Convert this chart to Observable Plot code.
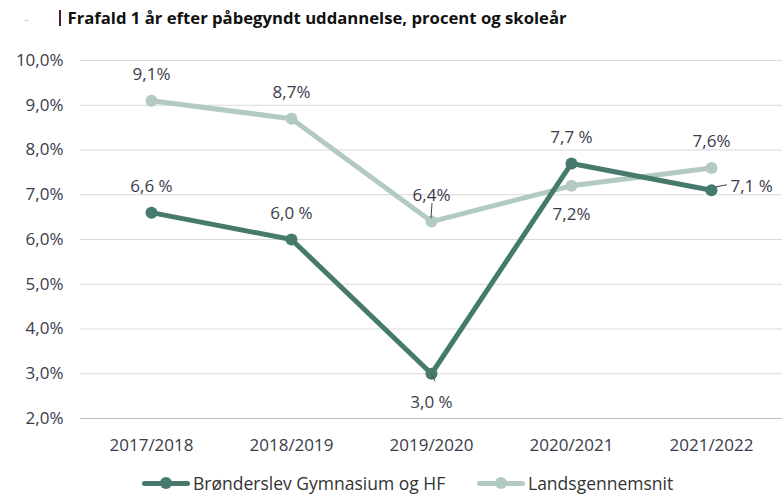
<!DOCTYPE html>
<html>
<head>
<meta charset="utf-8">
<script src="https://cdn.jsdelivr.net/npm/d3@7"></script>
<script src="https://cdn.jsdelivr.net/npm/@observablehq/plot@0.6"></script>
<style>
  html, body { margin: 0; padding: 0; background: #fff; }
  body { width: 782px; height: 497px; overflow: hidden; position: relative; font-family: "Open Sans", sans-serif; }
  #title { position: absolute; left: 0; top: 0; height: 40px; width: 782px; }
  #title .dots { position: absolute; left: 24px; top: 14px; font-size: 9px; color: #b0b0b0; letter-spacing: -1px; }
  #title .txt { position: absolute; left: 59px; top: 6px; font-size: 16.7px; line-height: 24px; font-weight: bold; color: #111; white-space: nowrap; }
  #title .bar { display: inline-block; width: 1.5px; height: 16px; background: #5a1a2a; vertical-align: -2px; margin-right: 7px; }
  #chart { position: absolute; left: 0; top: 40px; }
  #legend { position: absolute; left: 0; top: 471px; width: 782px; height: 26px; }
  .lg { position: absolute; top: 0; height: 24px; display: flex; align-items: center; font-size: 17.5px; line-height: 22px; color: #333; white-space: nowrap; }
  .sw { position: relative; height: 20px; margin-right: 3px; }
  .sw .ln { position: absolute; left: 0; right: 0; top: 7.5px; height: 5px; border-radius: 2.5px; }
  .sw .dt { position: absolute; top: 4px; width: 12px; height: 12px; border-radius: 6px; }
</style>
</head>
<body>
<div id="title"><span class="dots">···</span><span class="txt"><span class="bar"></span>Frafald 1 år efter påbegyndt uddannelse, procent og skoleår</span></div>
<div id="chart"></div>
<div id="legend"></div>
<script>
const years = ["2017/2018", "2018/2019", "2019/2020", "2020/2021", "2021/2022"];
const seriesNames = ["Brønderslev Gymnasium og HF", "Landsgennemsnit"];
const bronderslev = [6.6, 6.0, 3.0, 7.7, 7.1];
const bronderslevLabels = ["6,6 %", "6,0 %", "3,0 %", "7,7 %", "7,1 %"];
const lands = [9.1, 8.7, 6.4, 7.2, 7.6];
const landsLabels = ["9,1%", "8,7%", "6,4%", "7,2%", "7,6%"];
const yTicks = [2, 3, 4, 5, 6, 7, 8, 9, 10];
const yTickLabels = ["2,0%", "3,0%", "4,0%", "5,0%", "6,0%", "7,0%", "8,0%", "9,0%", "10,0%"];

const colors = ["#467a6c", "#b3cac3"];
const textColor = "#3b3b4a";
const font = "'Open Sans', sans-serif";

const data = [];
years.forEach((yr, i) => {
  data.push({year: yr, value: bronderslev[i], label: bronderslevLabels[i], series: seriesNames[0], i});
  data.push({year: yr, value: lands[i], label: landsLabels[i], series: seriesNames[1], i});
});
const dB = data.filter(d => d.series === seriesNames[0]);
const dL = data.filter(d => d.series === seriesNames[1]);

// label placement (in code, not in the data)
const below = d => (d.series === seriesNames[0] && d.i === 2) || (d.series === seriesNames[1] && d.i === 3);
const right = d => d.series === seriesNames[0] && d.i === 4;
const above = d => !below(d) && !right(d);

const chart = Plot.plot({
  width: 782,
  height: 420,
  marginLeft: 80,
  marginRight: 0,
  marginTop: 20,
  marginBottom: 42,
  style: {fontFamily: font, fontSize: "17px", color: textColor, background: "transparent", overflow: "visible"},
  x: {type: "point", domain: years, padding: 0.5, label: null},
  y: {domain: [2, 10], label: null},
  marks: [
    Plot.ruleY(yTicks.filter(t => t > 2), {stroke: "#d9d9d9", strokeWidth: 1}),
    Plot.ruleY([2], {stroke: "#bfbfbf", strokeWidth: 1.2}),
    Plot.axisY({ticks: yTicks, tickFormat: d => yTickLabels[yTicks.indexOf(d)], tickSize: 0, tickPadding: 17, fontSize: 17, fill: textColor}),
    Plot.axisX({tickSize: 0, tickPadding: 20, fontSize: 17, fill: textColor}),
    Plot.line(dL, {x: "year", y: "value", stroke: colors[1], strokeWidth: 5}),
    Plot.line(dB, {x: "year", y: "value", stroke: colors[0], strokeWidth: 5}),
    Plot.dot(dL, {x: "year", y: "value", fill: colors[1], r: 6}),
    Plot.dot(dB, {x: "year", y: "value", fill: colors[0], r: 6}),
    Plot.text(data.filter(above), {x: "year", y: "value", text: "label", dy: -26, fontSize: 17, fill: textColor}),
    Plot.text(data.filter(below), {x: "year", y: "value", text: "label", dy: 29, fontSize: 17, fill: textColor}),
    Plot.text(data.filter(right), {x: "year", y: "value", text: "label", dx: 19, dy: -4, textAnchor: "start", fontSize: 17, fill: textColor})
  ]
});
document.getElementById("chart").appendChild(chart);

// leader lines positioned through the chart's scales
const sx = chart.scale("x"), sy = chart.scale("y");
const svg = d3.select(chart);
function leader(xv, yv, x1o, y1o, x2o, y2o) {
  const px = sx.apply(xv), py = sy.apply(yv);
  svg.append("line").attr("x1", px + x1o).attr("y1", py + y1o).attr("x2", px + x2o).attr("y2", py + y2o)
    .attr("stroke", "#444").attr("stroke-width", 1);
}
leader(years[2], lands[2], 1, -18, 0, -3);
leader(years[4], bronderslev[4], 5, -3, 16, -5);
leader(years[2], bronderslev[2], 1, 2, 4, 8);

// legend
const legend = document.getElementById("legend");
const items = [
  {name: seriesNames[0], color: colors[0], left: 142, sw: 48},
  {name: seriesNames[1], color: colors[1], left: 477, sw: 48}
];
items.forEach(it => {
  const el = document.createElement("div");
  el.className = "lg";
  el.style.left = it.left + "px";
  el.innerHTML = `<div class="sw" style="width:${it.sw}px"><div class="ln" style="background:${it.color}"></div><div class="dt" style="background:${it.color};left:${it.sw/2 - 6}px"></div></div><span>${it.name}</span>`;
  legend.appendChild(el);
});
</script>
</body>
</html>
